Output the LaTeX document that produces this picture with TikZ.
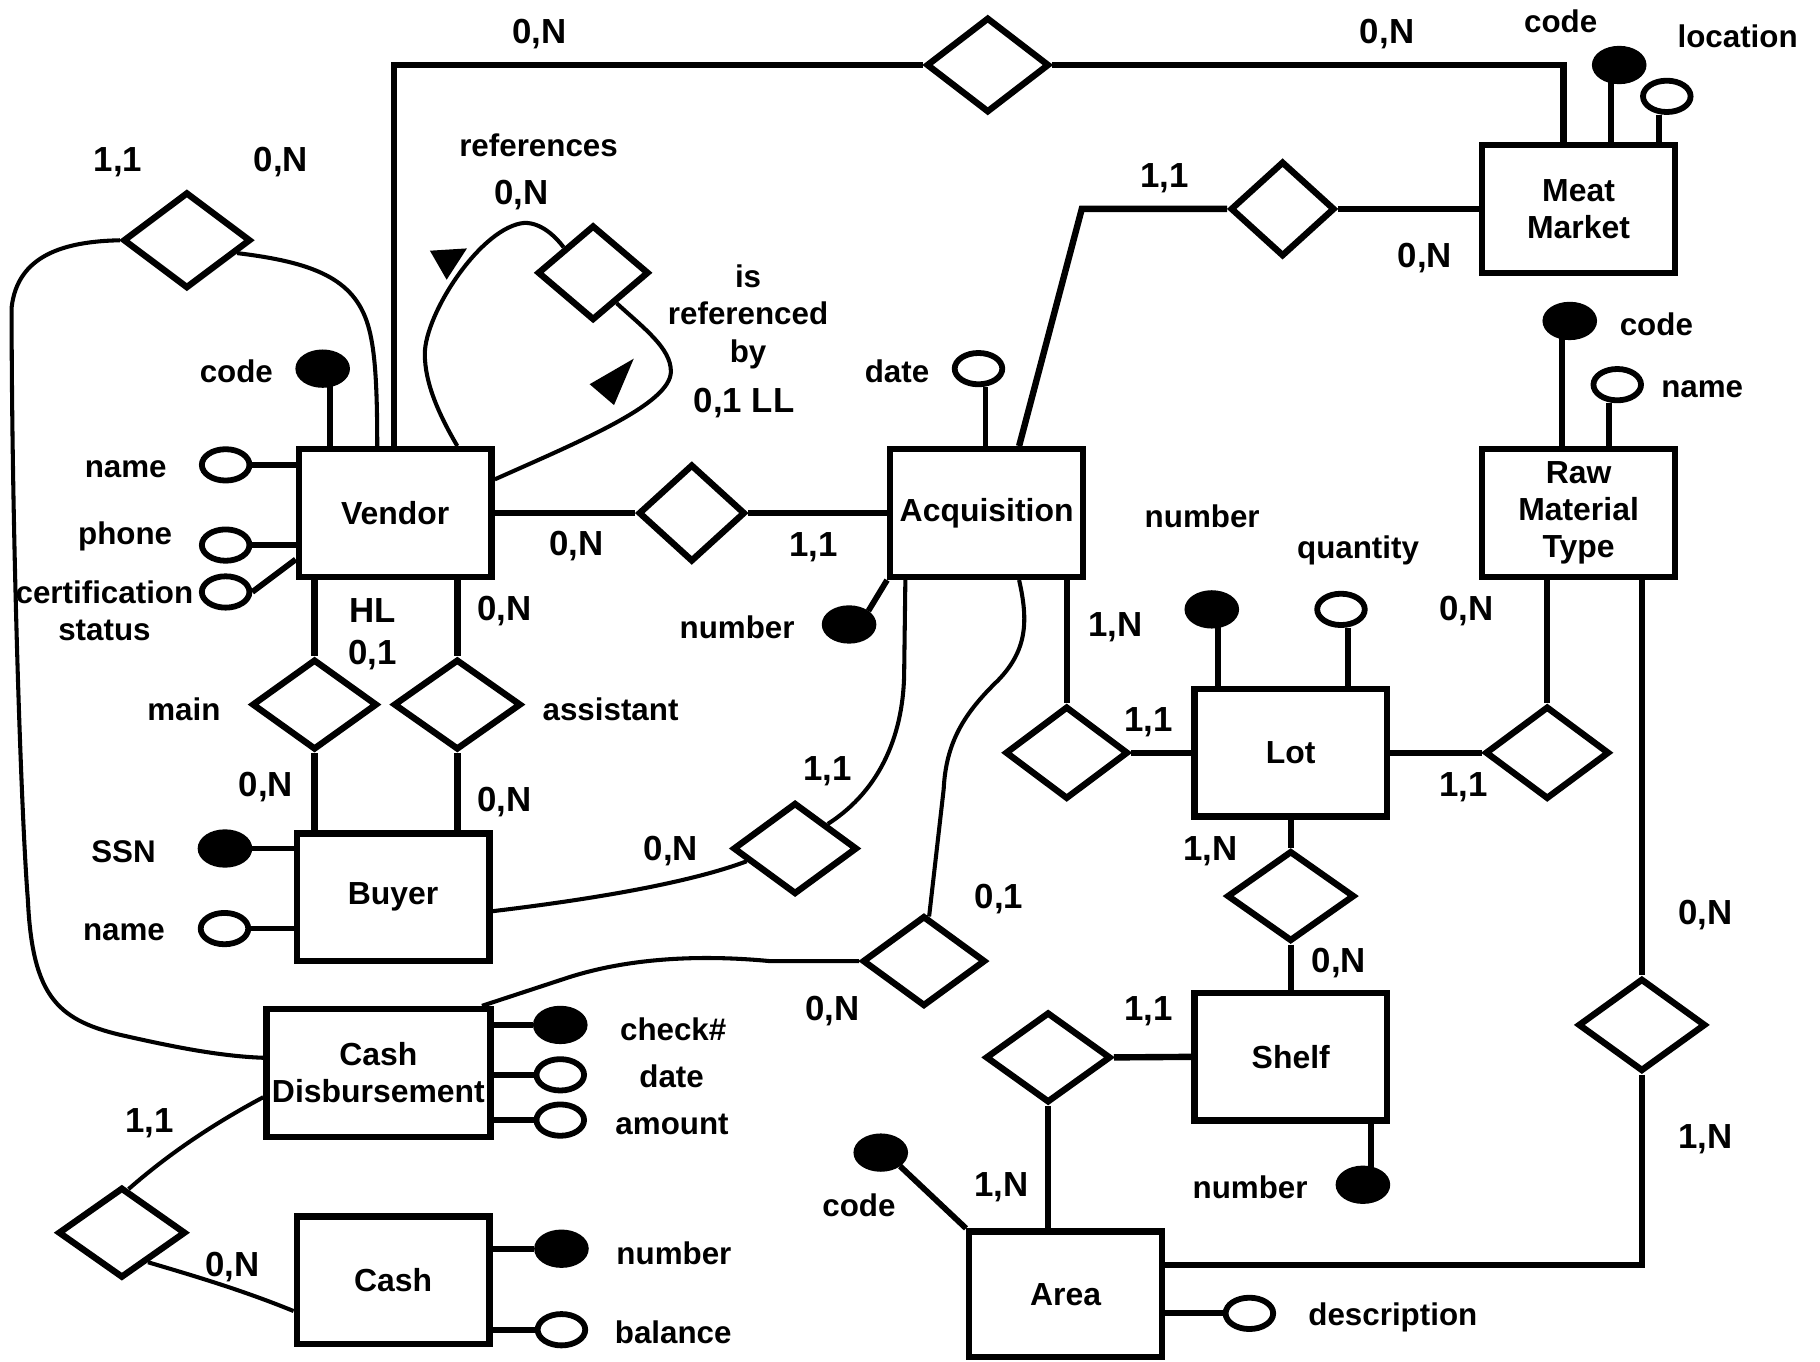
\documentclass[tikz,border=0pt]{standalone}
\usepackage{fontspec}
\setmainfont{Liberation Sans}
\usetikzlibrary{shapes.geometric,calc}
\tikzset{
  ent/.style={draw, line width=5.5pt, minimum width=166pt, minimum height=110pt, inner sep=0pt, align=center, font=\fontsize{27.5}{32}\selectfont\bfseries},
  rel/.style={draw, diamond, line width=5.5pt, inner sep=0pt, fill=white},
  keyatt/.style={ellipse, draw, fill=black, line width=5pt, minimum width=42pt, minimum height=28pt, inner sep=0pt},
  att/.style={ellipse, draw, fill=white, line width=5pt, minimum width=41pt, minimum height=27pt, inner sep=0pt},
  lbl/.style={font=\fontsize{27}{32}\selectfont\bfseries, inner sep=0pt, align=center},
  card/.style={font=\fontsize{30}{36}\selectfont\bfseries, inner sep=0pt},
  ln/.style={line width=5.5pt},
  cv/.style={line width=3.5pt},
  st/.style={line width=5pt}
}
\begin{document}
\begin{tikzpicture}[x=1pt,y=-1pt]
\useasboundingbox (0,0) rectangle (1568,1173);
\fill[white] (0,0) rectangle (1568,1173);

% entities
\node[ent] (vendor) at (340.5,442) {Vendor};
\node[ent] (acq) at (850,442) {Acquisition};
\node[ent] (mm) at (1360,180) {Meat\\Market};
\node[ent] (rmt) at (1360,442) {Raw\\Material\\Type};
\node[ent] (lot) at (1112,648.5) {Lot};
\node[ent] (shelf) at (1112,910.5) {Shelf};
\node[ent] (buyer) at (338.7,773) {Buyer};
\node[ent,minimum width=193pt] (cd) at (326,924.3) {Cash\\Disbursement};
\node[ent] (cash) at (338.7,1103) {Cash};
\node[ent,minimum height=108pt] (area) at (918,1115) {Area};

% relationships
\node[rel,minimum width=106pt,minimum height=82pt] (dtop) at (851,56) {};
\node[rel,minimum width=110pt,minimum height=83pt] (dvb) at (161,207) {};
\node[rel,minimum width=96pt,minimum height=82pt] (dref) at (511,235) {};
\node[rel,minimum width=90pt,minimum height=82pt] (dmm) at (1105,180) {};
\node[rel,minimum width=92pt,minimum height=84pt] (dva) at (596,442) {};
\node[rel,minimum width=108pt,minimum height=78pt] (dmain) at (271,607) {};
\node[rel,minimum width=110pt,minimum height=78pt] (dasst) at (394,607) {};
\node[rel,minimum width=107pt,minimum height=79pt] (dba) at (685,731) {};
\node[rel,minimum width=106pt,minimum height=78pt] (dca) at (796,828) {};
\node[rel,minimum width=106pt,minimum height=80pt] (dal) at (919,648.5) {};
\node[rel,minimum width=108pt,minimum height=78pt] (dsa) at (903,911) {};
\node[rel,minimum width=107pt,minimum height=80pt] (dlr) at (1333,648.5) {};
\node[rel,minimum width=110pt,minimum height=78pt] (dls) at (1112,772) {};
\node[rel,minimum width=110pt,minimum height=80pt] (dra) at (1414.5,883) {};
\node[rel,minimum width=110pt,minimum height=78pt] (dcc) at (105,1062) {};

% attributes
\node[keyatt] (mmcode) at (1395,56) {};
\node[att] (mmloc) at (1436,83) {};
\node[keyatt] (vcode) at (278,317.6) {};
\node[att] (vname) at (194.4,400.5) {};
\node[att] (vphone) at (194.4,469.6) {};
\node[att] (vcert) at (194.4,510) {};
\node[att] (adate) at (843,317.6) {};
\node[keyatt] (anum) at (731.5,538) {};
\node[keyatt] (lnum) at (1044,525) {};
\node[att] (lqty) at (1155.3,525) {};
\node[keyatt] (rcode) at (1352.4,276.5) {};
\node[att] (rname) at (1393.3,331.4) {};
\node[keyatt] (snum) at (1174.2,1020.7) {};
\node[keyatt] (bssn) at (193.8,731) {};
\node[att] (bname) at (193.4,800) {};
\node[keyatt] (cdchk) at (482.7,883) {};
\node[att] (cddate) at (482.7,926) {};
\node[att] (cdamt) at (482.7,965) {};
\node[keyatt] (cnum) at (483.7,1075.8) {};
\node[att] (cbal) at (483.7,1145.6) {};
\node[keyatt] (acode) at (758.8,993) {};
\node[att] (adesc) at (1076.4,1131.5) {};

% stem coordinates
\coordinate (s1) at ($(mmcode.center)+(-7,0)$);
\coordinate (s2) at ($(mmloc.south)+(-7,0)$);
\coordinate (s3) at ($(vcode.center)+(6,0)$);
\coordinate (s4) at ($(adate.south)+(6,0)$);
\coordinate (s5) at ($(lnum.center)+(5,0)$);
\coordinate (s6) at ($(lqty.south)+(6,0)$);
\coordinate (s7) at ($(rcode.center)+(-7,0)$);
\coordinate (s8) at ($(rname.south)+(-7,0)$);
\coordinate (s9) at ($(snum.center)+(7,0)$);

% attribute stems
\draw[st] (s1) -- (s1 |- mm.north);
\draw[st] (s2) -- (s2 |- mm.north);
\draw[st] (s3) -- (s3 |- vendor.north);
\draw[st] (vname.east) -- (vname.east -| vendor.west);
\draw[st] (vphone.east) -- (vphone.east -| vendor.west);
\draw[st] (vcert.east) -- ([yshift=-40pt]vendor.west);
\draw[st] (s4) -- (s4 |- acq.north);
\draw[st] (anum.north east) -- (acq.south west);
\draw[st] (s5) -- (s5 |- lot.north);
\draw[st] (s6) -- (s6 |- lot.north);
\draw[st] (s7) -- (s7 |- rmt.north);
\draw[st] (s8) -- (s8 |- rmt.north);
\draw[st] (s9) -- (s9 |- shelf.south);
\draw[st] (bssn.east) -- (bssn.east -| buyer.west);
\draw[st] (bname.east) -- (bname.east -| buyer.west);
\draw[st] (cdchk.west -| cd.east) -- (cdchk.west);
\draw[st] (cddate.west -| cd.east) -- (cddate.west);
\draw[st] (cdamt.west -| cd.east) -- (cdamt.west);
\draw[st] (cnum.west -| cash.east) -- (cnum.west);
\draw[st] (cbal.west -| cash.east) -- (cbal.west);
\draw[st] (acode.south east) -- (area.north west);
\draw[st] (adesc.west -| area.east) -- (adesc.west);

% straight connectors
\draw[ln] ([xshift=-1pt]vendor.north) |- (dtop.west);
\draw[ln] (dtop.east) -| ([xshift=-13pt]mm.north);
\coordinate (kmm) at (932,180);
\draw[ln] ([xshift=28pt]acq.north) -- (kmm) -- (dmm.west);
\draw[ln] (dmm.east) -- (mm.west);
\draw[ln] (vendor.east) -- (dva.west);
\draw[ln] (dva.east) -- (acq.west);
\draw[ln] ([xshift=-69.5pt]vendor.south) -- (dmain.north);
\draw[ln] ([xshift=53.5pt]vendor.south) -- (dasst.north);
\draw[ln] (dmain.south) -- (dmain.south |- buyer.north);
\draw[ln] (dasst.south) -- (dasst.south |- buyer.north);
\draw[ln] ([xshift=69pt]acq.south) -- (dal.north);
\draw[ln] (dal.east) -- (lot.west);
\draw[ln] (lot.east) -- (dlr.west);
\draw[ln] (dlr.north) -- (dlr.north |- rmt.south);
\draw[ln] ([xshift=54.5pt]rmt.south) -- (dra.north);
\draw[ln] (dra.south) |- ([yshift=25pt]area.east);
\draw[ln] (lot.south) -- (dls.north);
\draw[ln] (dls.south) -- (shelf.north);
\draw[ln] (dsa.east) -- (shelf.west);
\draw[ln] (dsa.south) -- (dsa.south |- area.north);

% curved connectors
\draw[cv] ($(dvb.east)!0.25!(dvb.south)$) .. controls (270,226) and (305,240) .. (317,280) .. controls (323,300) and (325,330) .. ([xshift=-15.5pt]vendor.north);
\draw[cv] (dvb.west) .. controls (55,208) and (15,220) .. (10,265) .. controls (10,450) and (18,700) .. (24,775) .. controls (28,860) and (50,880) .. (110,893) .. controls (150,902) and (190,910) .. ([yshift=13pt]cd.west);
\draw[cv] ([xshift=53.5pt]vendor.north) .. controls (378,357) and (366,330) .. (366,305) .. controls (366,270) and (415,195) .. (452,192) .. controls (466,192) and (478,203) .. ($(dref.west)!0.5!(dref.north)$);
\draw[cv] ($(dref.south)!0.4!(dref.east)$) .. controls (555,283) and (578,300) .. (578,320) .. controls (578,348) and (500,380) .. ([yshift=29pt]vendor.east);
\draw[cv] ([yshift=-12pt]buyer.east) .. controls (500,776) and (590,762) .. ($(dba.west)!0.26!(dba.south)$);
\draw[cv] ($(dba.north)!0.5!(dba.east)$) .. controls (760,680) and (779,630) .. (779,577) -- ([xshift=-70pt]acq.south);
\draw[cv] ([xshift=28pt]acq.south) .. controls (886,535) and (885,560) .. (860,586) .. controls (830,615) and (815,640) .. (813,680) -- ($(dca.north)!0.08!(dca.east)$);
\draw[cv] (dca.west) -- (663,828) .. controls (600,822) and (540,826) .. (490,842) -- ([xshift=-10pt]cd.north east);
\draw[cv] ([yshift=-21pt]cd.west) .. controls (190,965) and (150,990) .. ($(dcc.north)!0.1!(dcc.east)$);
\draw[cv] ($(dcc.east)!0.61!(dcc.south)$) .. controls (170,1100) and (210,1112) .. ([yshift=-26.5pt]cash.west);

% arrowheads of the self relationship
\fill (370.4,216) -- (402.3,214) -- (384.8,241) -- cycle;
\fill (546,309) -- (529,349) -- (508,331) -- cycle;

% attribute and role labels
\node[lbl] (t1) at (1344.6,18) {code};
\node[lbl] (t2) at (1497,31) {location};
\node[lbl] (t3) at (203.6,320) {code};
\node[lbl] (t4) at (108.3,404) {name};
\node[lbl] (t5) at (107.8,462) {phone};
\node[lbl] (t6) at (90,526) {certification\\status};
\node[lbl] (t7) at (464,124.8) {references};
\node[lbl] (t8) at (644.5,273) {is\\referenced\\by};
\node[lbl] (t9) at (772.8,320) {date};
\node[lbl] (t10) at (635,540.8) {number};
\node[lbl] (t11) at (1035.7,444.6) {number};
\node[lbl] (t12) at (1170,474.5) {quantity};
\node[lbl] (t13) at (1427,279) {code};
\node[lbl] (t14) at (1466.5,335.7) {name};
\node[lbl] (t15) at (158.4,611) {main};
\node[lbl] (t16) at (526,611) {assistant};
\node[lbl] (t17) at (106.4,734) {SSN};
\node[lbl] (t18) at (106.8,803.5) {name};
\node[lbl] (t19) at (580,886.5) {check\#};
\node[lbl] (t20) at (578.6,927) {date};
\node[lbl] (t21) at (579,968.5) {amount};
\node[lbl] (t22) at (580.6,1080) {number};
\node[lbl] (t23) at (580,1147.6) {balance};
\node[lbl] (t24) at (740,1038.7) {code};
\node[lbl] (t25) at (1077,1023) {number};
\node[lbl] (t26) at (1200,1134.8) {description};

% cardinalities
\node[card] (c1) at (464.5,29.5) {0,N};
\node[card] (c2) at (1195,29.5) {0,N};
\node[card] (c3) at (101.7,140) {1,1};
\node[card] (c4) at (242,140) {0,N};
\node[card] (c5) at (449,167.8) {0,N};
\node[card] (c6) at (641,347) {0,1 LL};
\node[card] (c7) at (1003,153.5) {1,1};
\node[card] (c8) at (1227.7,222) {0,N};
\node[card] (c9) at (496.5,470.8) {0,N};
\node[card] (c10) at (700.6,471.7) {1,1};
\node[card] (c11) at (321,526) {HL};
\node[card] (c12) at (321,564) {0,1};
\node[card] (c13) at (434.6,526) {0,N};
\node[card] (c14) at (229,678) {0,N};
\node[card] (c15) at (434.6,691) {0,N};
\node[card] (c16) at (961,540) {1,N};
\node[card] (c17) at (1263.3,526.8) {0,N};
\node[card] (c18) at (989.6,622) {1,1};
\node[card] (c19) at (1260.8,678) {1,1};
\node[card] (c20) at (712.7,664) {1,1};
\node[card] (c21) at (578,733) {0,N};
\node[card] (c22) at (1043,733) {1,N};
\node[card] (c23) at (860.6,774.7) {0,1};
\node[card] (c24) at (1469,788) {0,N};
\node[card] (c25) at (1153.6,829.7) {0,N};
\node[card] (c26) at (717,871) {0,N};
\node[card] (c27) at (989.6,871) {1,1};
\node[card] (c28) at (128.7,968) {1,1};
\node[card] (c29) at (1469,981.6) {1,N};
\node[card] (c30) at (862.6,1022.5) {1,N};
\node[card] (c31) at (200.5,1092) {0,N};
\end{tikzpicture}
\end{document}
